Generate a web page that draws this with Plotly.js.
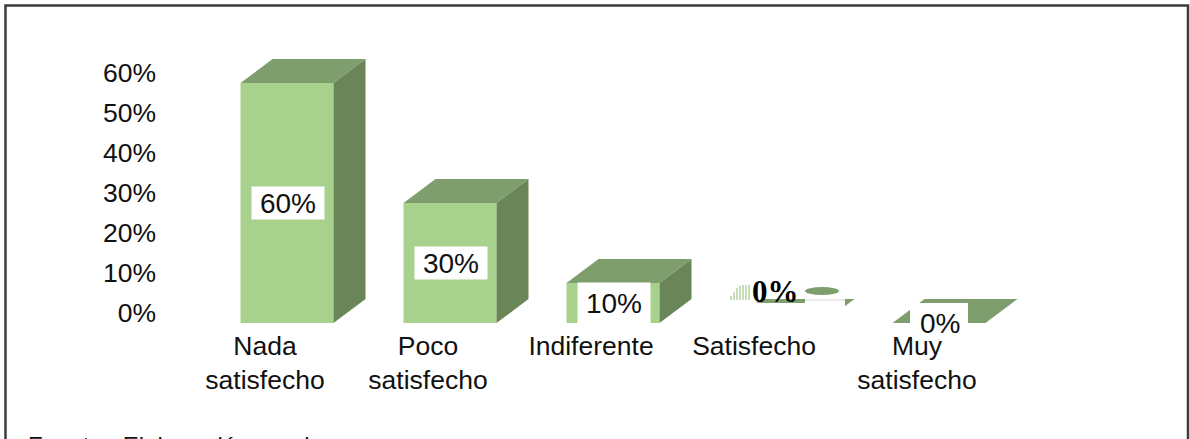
<!DOCTYPE html>
<html><head><meta charset="utf-8">
<script src="https://cdn.plot.ly/plotly-3.0.1.min.js"></script>
<style>html,body{margin:0;padding:0;background:#fff;overflow:hidden}#c{width:1190px;height:439px}</style>
</head><body><div id="c"></div>
<script>
const categories = ["Nada<br>satisfecho","Poco<br>satisfecho","Indiferente","Satisfecho","Muy<br>satisfecho"];
const values = [60,30,10,0,0];
const valueLabels = ["60%","30%","10%","0%","0%"];
const yTicks = [0,10,20,30,40,50,60];
const yTickLabels = ["0%","10%","20%","30%","40%","50%","60%"];

const W=1190,H=439,ML=160,MB=116;
const PW=W-ML, PH=H-MB;
const x0=287, step=163, pxPerPct=4;
const xOf=px=>(px-x0)/step, yOf=py=>(323-py)/pxPerPct;
const xpaper=px=>(px-ML)/PW, ypaper=py=>(PH-py)/PH;
const barW=93/step, dx=32/step, dy=24/pxPerPct;
const FRONT='#a9d18e',TOP='#7f9e6e',SIDE='#6a8558';
const xs=values.map((_,i)=>i);

const traces=[{type:'bar',x:xs,y:values,width:barW,marker:{color:FRONT,line:{width:0}},hoverinfo:'skip',showlegend:false}];
values.forEach((v,i)=>{
  const l=i-barW/2,r=i+barW/2;
  traces.push({type:'scatter',mode:'lines',x:[l,r,r+dx,l+dx,l],y:[v,v,v+dy,v+dy,v],fill:'toself',fillcolor:TOP,line:{width:0,color:TOP},hoverinfo:'skip',showlegend:false});
  if(v>0) traces.push({type:'scatter',mode:'lines',x:[r,r+dx,r+dx,r,r],y:[0,dy,v+dy,v,0],fill:'toself',fillcolor:SIDE,line:{width:0,color:SIDE},hoverinfo:'skip',showlegend:false});
});

const fam='"Liberation Sans",Arial,sans-serif';
const txt={family:fam,size:26.5,color:'#111'};
const axisY={family:fam,size:26.5,color:'#111'};
const valTxt={family:fam,size:28,color:'#111'};
const annotations=[];
[0,1,2].forEach(i=>annotations.push({x:i,y:values[i]/2,xref:'x',yref:'y',text:valueLabels[i],showarrow:false,font:valTxt,bgcolor:'#fff',width:72,height:i===2?40:32,xanchor:'center',yanchor:'middle',borderpad:0,xshift:1}));
annotations.push({x:xOf(940),y:0,xref:'x',yref:'y',text:valueLabels[4],showarrow:false,font:valTxt,xanchor:'center',yanchor:'middle'});
annotations.push({x:xOf(775),y:yOf(291),xref:'x',yref:'y',text:'<b>'+valueLabels[3]+'</b>',showarrow:false,font:{family:'"Liberation Serif",serif',size:31,color:'#000'},xanchor:'center',yanchor:'middle'});
annotations.push({x:xpaper(27),y:ypaper(431.5),xref:'paper',yref:'paper',text:'Fuente:  Elaboración propia',showarrow:false,font:{family:fam,size:24,color:'#111'},xanchor:'left',yanchor:'top',borderpad:0});

const rectData=(x1,y1,x2,y2,fill)=>({type:'rect',layer:'above',xref:'x',yref:'y',x0:xOf(x1),x1:xOf(x2),y0:yOf(y1),y1:yOf(y2),fillcolor:fill,line:{width:0}});
const shapes=[
  {type:'rect',layer:'below',xref:'paper',yref:'paper',x0:xpaper(5.5),x1:xpaper(1188),y0:ypaper(5.5),y1:ypaper(445),fillcolor:'rgba(0,0,0,0)',line:{color:'#3c3c3c',width:2.5}},
  rectData(728,303,845,323,'#fff'),
  rectData(805,299,845,303,'#fff'),
  {type:'line',layer:'above',xref:'x',yref:'y',x0:xOf(805),x1:xOf(845),y0:yOf(300),y1:yOf(300),line:{color:'#e4e4e4',width:1.5}},
  rectData(910,303,968,323,'#fff'),
  {type:'circle',layer:'above',xref:'x',yref:'y',x0:xOf(805),x1:xOf(839),y0:yOf(287),y1:yOf(295),fillcolor:'#7f9e6e',line:{width:0}}
];
[[731,296],[734,292],[737,288],[740,286],[743,285],[746,285],[749,285]].forEach(p=>shapes.push({type:'line',layer:'above',xref:'x',yref:'y',x0:xOf(p[0]),x1:xOf(p[0]),y0:yOf(300),y1:yOf(p[1]),line:{color:'#a9cb92',width:1.3}}));

Plotly.newPlot('c',traces,{
  width:W,height:H,margin:{l:ML,r:0,t:0,b:MB,pad:0},
  paper_bgcolor:'#fff',plot_bgcolor:'rgba(0,0,0,0)',showlegend:false,barmode:'overlay',
  font:txt,annotations,shapes,
  xaxis:{type:'linear',range:[xOf(ML),xOf(W)],tickmode:'array',tickvals:xs,ticktext:categories,ticklabelshift:-22,ticklabelstandoff:4,ticks:'',showgrid:false,zeroline:false,showline:false,tickfont:txt,automargin:false,fixedrange:true},
  yaxis:{type:'linear',range:[yOf(323),yOf(0)],tickmode:'array',tickvals:yTicks,ticktext:yTickLabels,ticklabelshift:-10,ticklabelstandoff:3,ticks:'',showgrid:false,zeroline:false,showline:false,tickfont:axisY,automargin:false,fixedrange:true}
},{displayModeBar:false,staticPlot:true});
</script></body></html>
